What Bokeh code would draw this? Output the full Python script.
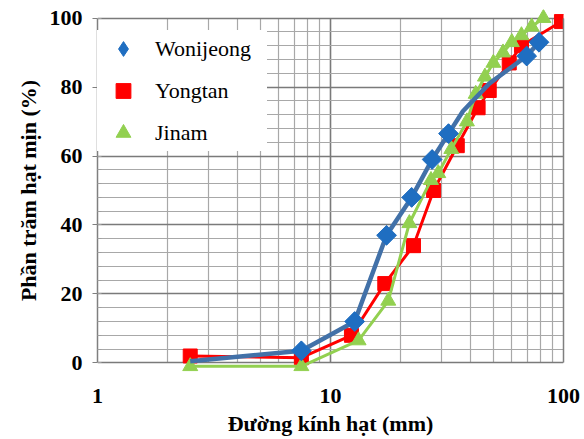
from bokeh.plotting import figure
from bokeh.models import (Range1d, LogTicker, SingleIntervalTicker, FixedTicker, LinearAxis, Legend,
                          LegendItem, ColumnDataSource, Grid, NumeralTickFormatter)
from bokeh.embed import file_html
from bokeh.resources import INLINE
import math

# ---- data ----
won_d = [2.5, 7.5, 12.7, 17.4, 22.3, 27.3, 32.1, 37.0, 48.0, 69.5, 78.5]
won_v = [0.5, 3.5, 12.0, 37.0, 48.0, 59.0, 66.5, 73.0, 81.0, 89.0, 93.0]
won_mark = [0, 1, 1, 1, 1, 1, 1, 0, 0, 1, 1]

yong_d = [2.5, 7.5, 12.3, 17.1, 22.7, 27.7, 35.0, 43.0, 48.0, 58.5, 66.0, 98.0]
yong_v = [2.0, 1.5, 8.0, 23.0, 34.0, 50.0, 63.0, 74.0, 79.0, 87.0, 92.0, 99.0]

jin_d = [2.5, 7.5, 13.2, 17.7, 21.8, 27.0, 29.0, 33.0, 38.5, 42.0, 46.0, 50.0, 55.0, 60.0, 66.0, 73.0, 82.0]
jin_v = [-1.0, -1.0, 6.5, 18.0, 40.5, 53.0, 55.0, 62.0, 70.0, 78.0, 83.0, 87.0, 90.0, 93.0, 95.0, 97.5, 100.0]

series_names = ["Wonijeong", "Yongtan", "Jinam"]
x_title = "Đường kính hạt (mm)"
y_title = "Phần trăm hạt mịn (%)"

BLUE_LINE = "#4271A8"
BLUE_MARK = "#1F6EC1"
RED = "#FF0000"
GREEN = "#92D050"
SERIF = "'Liberation Serif', 'Times New Roman', serif"

p = figure(width=584, height=439, x_axis_type="log",
           x_range=Range1d(1, 100), y_range=Range1d(-2.5, 102.5),
           output_backend="svg", toolbar_location=None,
           min_border_left=97, min_border_right=21, min_border_top=9, min_border_bottom=68)
p.outline_line_color = None
p.background_fill_color = "white"
p.border_fill_color = "white"

# axes
xa = p.xaxis[0]
xa.ticker = LogTicker(mantissas=[1], num_minor_ticks=10)
xa.formatter = NumeralTickFormatter(format="0")
xa.axis_line_color = None
xa.major_tick_line_color = None
xa.minor_tick_line_color = None
xa.major_label_standoff = 11
xa.major_label_text_font = SERIF
xa.major_label_text_font_style = "bold"
xa.major_label_text_font_size = "22px"
xa.major_label_text_color = "black"
xa.axis_label = x_title
xa.axis_label_text_font = SERIF
xa.axis_label_text_font_style = "bold"
xa.axis_label_text_font_size = "22px"
xa.axis_label_text_color = "black"
xa.axis_label_standoff = 5

ya = p.yaxis[0]
ya.ticker = SingleIntervalTicker(interval=20, num_minor_ticks=5)
ya.bounds = (0, 100)
ya.axis_line_color = "#7f7f7f"
ya.axis_line_width = 1.5
ya.major_tick_line_color = "#7f7f7f"
ya.major_tick_out = 5
ya.major_tick_in = 0
ya.minor_tick_line_color = "#a0a0a0"
ya.minor_tick_in = 4
ya.minor_tick_out = 0
ya.major_label_standoff = 10
ya.major_label_text_font = SERIF
ya.major_label_text_font_style = "bold"
ya.major_label_text_font_size = "22px"
ya.major_label_text_color = "black"
ya.axis_label = y_title
ya.axis_label_text_font = SERIF
ya.axis_label_text_font_style = "bold"
ya.axis_label_text_font_size = "22px"
ya.axis_label_text_color = "black"
ya.axis_label_standoff = 6

ra = LinearAxis(ticker=FixedTicker(ticks=[]), bounds=(0, 100),
                axis_line_color="#7f7f7f", axis_line_width=1.5,
                major_tick_line_color=None, minor_tick_line_color=None)
p.add_layout(ra, "right")

# grids
has_cb = "cross_bounds" in Grid.properties()
xg = p.xgrid[0]
xg.grid_line_color = "#7a7a7a"
xg.grid_line_width = 1.5
xg.minor_grid_line_color = "#a8a8a8"
xg.minor_grid_line_width = 1.2
yg = p.ygrid[0]
yg.grid_line_color = "#7a7a7a"
yg.grid_line_width = 1.5
yg.minor_grid_line_color = "#a8a8a8"
yg.minor_grid_line_width = 1.2
if has_cb:
    xg.cross_bounds = (0, 100)
    yg.cross_bounds = (1, 100)

# series
ys = ColumnDataSource(dict(x=yong_d, y=yong_v))
p.line("x", "y", source=ys, line_color=RED, line_width=3)
r_yong = p.scatter("x", "y", source=ys, marker="square", size=14,
                   fill_color=RED, line_color=RED)

js = ColumnDataSource(dict(x=jin_d, y=jin_v))
p.line("x", "y", source=js, line_color=GREEN, line_width=3)
r_jin = p.scatter("x", "y", source=js, marker="triangle", size=15,
                  fill_color=GREEN, line_color=GREEN)

ws = ColumnDataSource(dict(x=won_d, y=won_v))
p.line("x", "y", source=ws, line_color=BLUE_LINE, line_width=4.5)
wm = ColumnDataSource(dict(x=[d for d, m in zip(won_d, won_mark) if m],
                           y=[v for v, m in zip(won_v, won_mark) if m]))
# diamond glyph used for the legend symbol (fully covered by the square diamonds below)
r_won = p.scatter("x", "y", source=wm, marker="diamond", size=19,
                  fill_color=BLUE_MARK, line_color=BLUE_MARK)
p.scatter("x", "y", source=wm, marker="square", size=14, angle=math.pi / 4,
          fill_color=BLUE_MARK, line_color=BLUE_MARK)

legend = Legend(items=[LegendItem(label=series_names[0], renderers=[r_won]),
                       LegendItem(label=series_names[1], renderers=[r_yong]),
                       LegendItem(label=series_names[2], renderers=[r_jin])],
                location=(0, 220), padding=0, spacing=5, margin=0,
                glyph_width=52, glyph_height=37, label_height=37, label_standoff=6,
                label_width=112,
                label_text_font=SERIF, label_text_font_size="22px", label_text_color="black",
                border_line_color=None, background_fill_color="white", background_fill_alpha=1.0)
p.add_layout(legend, "center")

open("out.html", "w").write(file_html(p, INLINE))
